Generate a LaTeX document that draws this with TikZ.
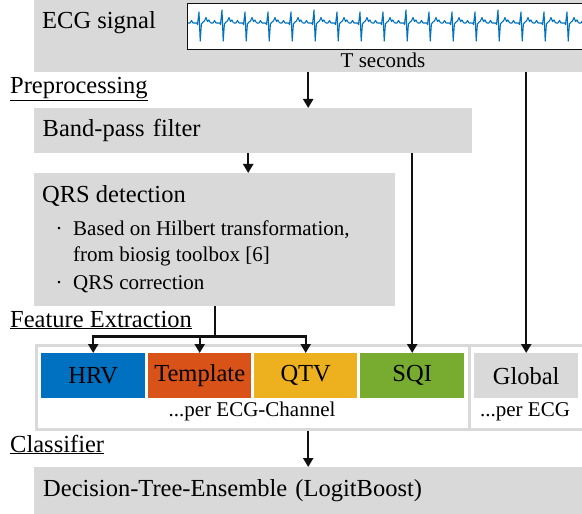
\documentclass[tikz,border=0pt]{standalone}
\usepackage{fontspec}
\setmainfont{Liberation Serif}
\usetikzlibrary{arrows.meta,calc}
\definecolor{kasten}{HTML}{D9D9D9}
\definecolor{hrvblau}{HTML}{0070C0}
\definecolor{tplrot}{HTML}{D95319}
\definecolor{qtvgelb}{HTML}{EDB120}
\definecolor{sqigruen}{HTML}{77AC30}
\definecolor{ekgblau}{HTML}{0072BD}
\definecolor{schwarz}{HTML}{111111}
\newcommand\gross{\fontsize{24.5bp}{29bp}\selectfont}
\newcommand\klein{\fontsize{21bp}{25bp}\selectfont}
\tikzset{
  feld/.style={fill=kasten,inner sep=0pt,anchor=north west},
  merkmal/.style={inner sep=0pt,anchor=north west,minimum height=45bp},
  rahmen/.style={draw=kasten,line width=3bp},
  titel/.style={anchor=base west,inner sep=0pt},
  kleintext/.style={font=\klein,inner sep=0pt},
  linie/.style={schwarz,line width=2.4bp},
  pfeil/.style={-{Triangle[length=9bp,width=10bp]},schwarz,line width=2.4bp},
  kurve/.style={ekgblau,line width=1.1bp,line join=round},
}
\begin{document}
\begin{tikzpicture}[x=1bp,y=-1bp,font=\gross]
  \useasboundingbox (0,0) rectangle (582,514);
  % ECG signal
  \node[feld,minimum width=548bp,minimum height=72bp] (sig) at (34,0) {};
  \node[titel] (sigt) at (42,29) {ECG signal};
  \node[fill=white,inner sep=0pt,anchor=north west,minimum width=396bp,minimum height=46bp] (ekg) at (187,3) {};
  \begin{scope}
    \clip (ekg.south west) rectangle (ekg.north east);
    \foreach \k in {0,...,18}{
      \pgfmathsetmacro\r{176+23*\k}
      \pgfmathsetmacro\a{mod(\k,4)==2 ? 13 : 11}
      \draw[kurve] (\r-11.5,23) -- (\r-9,23) -- (\r-7.5,20.5) -- (\r-6,23) -- (\r-2.5,23) -- (\r-1.5,24.5)
        -- (\r,23-\a) -- (\r+1.2,41) -- (\r+2.4,24) -- (\r+4,22) -- (\r+5.5,21) -- (\r+7,17.5)
        -- (\r+8.5,21.5) -- (\r+10,20) -- (\r+11.5,23);
    }
  \end{scope}
  \draw[schwarz,line width=0.8bp] (ekg.south west) rectangle (ekg.north east);
  \node[kleintext,anchor=base] (tsek) at (383,68) {T seconds};
  % Preprocessing
  \node[titel] (vorv) at (10,94) {\underline{Preprocessing}};
  \node[feld,minimum width=438bp,minimum height=45bp,text width=421bp,align=left,inner xsep=8.5bp] (bpf) at (34,108) {Band-pass filter};
  \node[feld,minimum width=361bp,minimum height=133bp] (qrs) at (34,173) {};
  \node[titel] (qrst) at (42,203) {QRS detection};
  \node[kleintext,anchor=base] (pkt1) at (59,235) {·};
  \node[kleintext,anchor=base west] (qrs1) at (73,235) {Based on Hilbert transformation,};
  \node[kleintext,anchor=base west] (qrs1b) at (73,261) {from biosig toolbox [6]};
  \node[kleintext,anchor=base] (pkt2) at (59,289) {·};
  \node[kleintext,anchor=base west] (qrs2) at (73,289) {QRS correction};
  % Feature Extraction
  \node[titel] (merk) at (10,327) {\underline{Feature Extraction}};
  \node[rahmen,inner sep=0pt,anchor=north west,minimum width=548bp,minimum height=84bp] (feat) at (35,344) {};
  \draw[rahmen] (469,344) -- (469,428);
  \node[merkmal,fill=hrvblau,minimum width=104bp] (hrv) at (41,353) {HRV};
  \node[merkmal,fill=tplrot,minimum width=103bp] (tpl) at (148,353) {Template};
  \node[merkmal,fill=qtvgelb,minimum width=103bp] (qtv) at (254,353) {QTV};
  \node[merkmal,fill=sqigruen,minimum width=104bp] (sqi) at (360,353) {SQI};
  \node[merkmal,fill=kasten,minimum width=104bp] (glob) at (474,353) {Global};
  \node[kleintext,anchor=base] (prokanal) at (252,416) {...per ECG-Channel};
  \node[kleintext,anchor=base] (proekg) at (525,416) {...per ECG};
  % Classifier
  \node[titel] (klass) at (10,452) {\underline{Classifier}};
  \node[feld,minimum width=548bp,minimum height=47bp,text width=530bp,align=left,inner xsep=9bp] (dec) at (34,467) {Decision-Tree-Ensemble (LogitBoost)};
  % Pfeile
  \draw[pfeil] (sig.south) -- (sig.south |- bpf.north);
  \draw[pfeil] ([xshift=-5bp]bpf.south) -- ([xshift=-5bp]bpf.south |- qrs.north);
  \draw[pfeil] (sqi.north |- bpf.south) -- (sqi.north);
  \draw[pfeil] (glob.north |- sig.south) -- (glob.north);
  \coordinate (verz) at ([yshift=-30bp]qrs.south);
  \draw[linie] (qrs.south) -- (verz);
  \draw[linie,line cap=rect] (verz -| hrv.north) -- (verz -| qtv.north);
  \foreach \ziel in {hrv,tpl,qtv}{\draw[pfeil] (verz -| \ziel.north) -- (\ziel.north);}
  \draw[pfeil] (feat.south -| dec.north) -- (dec.north);
\end{tikzpicture}
\end{document}
